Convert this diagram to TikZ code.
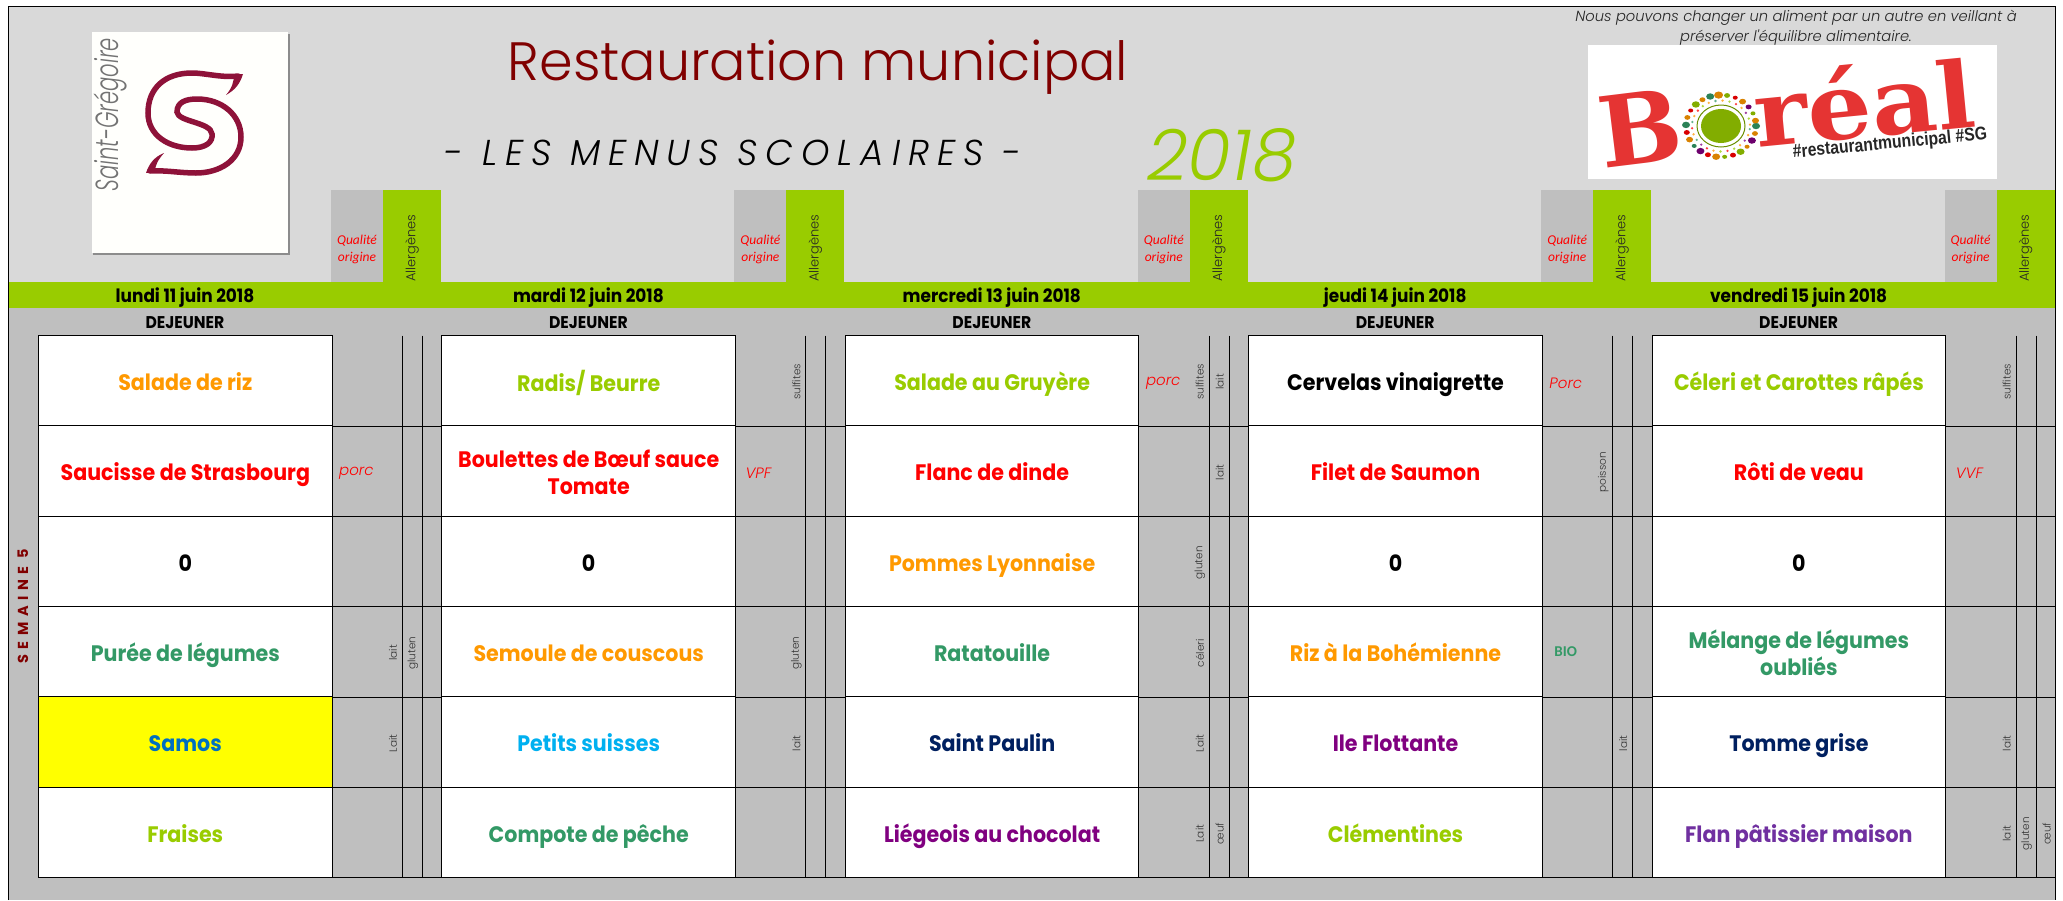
\documentclass[tikz,border=0pt]{standalone}
\usepackage{fontspec}
\setmainfont{Poppins}
\newfontfamily\lightf{Poppins Light}[ItalicFont={Poppins Light Italic}]
\newfontfamily\lightnar{Poppins Light}[ItalicFont={Poppins Light Italic},FakeStretch=0.66]
\newfontfamily\cellf{Poppins}[FakeStretch=0.92]
\newfontfamily\carl{Carlito}
\newfontfamily\slab{DejaVu Serif}[FakeStretch=1.1]
\newfontfamily\slabb{DejaVu Serif}
\newfontfamily\hashf{Liberation Sans}[FakeStretch=0.85]
\definecolor{headbg}{HTML}{D9D9D9}
\definecolor{bodybg}{HTML}{BFBFBF}
\definecolor{lime}{HTML}{99CC00}
\definecolor{orng}{HTML}{FF9900}
\definecolor{grn}{HTML}{339966}
\definecolor{sky}{HTML}{00B0F0}
\definecolor{blu}{HTML}{0070C0}
\definecolor{navy}{HTML}{002060}
\definecolor{purp}{HTML}{800080}
\definecolor{viol}{HTML}{7030A0}
\definecolor{maroon}{HTML}{800000}
\definecolor{logoS}{HTML}{8E1239}
\definecolor{borealred}{HTML}{E53433}
\definecolor{hiyellow}{HTML}{FFFF00}
\tikzset{
  menucell/.style={draw=black,fill=white,line width=1pt,minimum width=293.5pt,minimum height=90.3pt,inner sep=0pt},
  celltext/.style={inner sep=0pt,align=center,font=\cellf\bfseries\fontsize{22.4}{27}\selectfont},
  allerg/.style={rotate=90,inner sep=0pt,text=black!80,font=\lightf\fontsize{10.5}{12}\selectfont},
  origin/.style={anchor=west,inner sep=0pt,text=red,yshift=-2.5pt,font=\lightf\itshape\fontsize{15}{18}\selectfont},
  qual/.style={inner sep=0pt,text=red,align=center,font=\carl\itshape\fontsize{13.5}{17.5}\selectfont},
  allhead/.style={rotate=90,anchor=west,inner sep=0pt,text=black!85,font=\lightf\fontsize{13}{15}\selectfont},
  dateh/.style={inner sep=0pt,font=\cellf\bfseries\fontsize{18.4}{20}\selectfont},
  dejh/.style={inner sep=0pt,font=\cellf\bfseries\fontsize{17}{20}\selectfont},
  rule/.style={line width=1pt,black},
}
\newcommand\mcell[5][]{%
  \pgfmathsetmacro\cx{185.3+403.4*(#2-1)}%
  \pgfmathsetmacro\cy{380.6+90.33*(#3-1)}%
  \node[menucell,#1] (m#2#3) at (\cx,\cy) {};
  \node[celltext,text=#4] (t#2#3) at ([yshift=-4.5pt]m#2#3.center) {\strut #5\strut};}
\newcommand\algn[4]{% col,row,sub,text
  \pgfmathsetmacro\ax{38.5+403.4*(#1-1)+354.5+20*(#3-1)}%
  \pgfmathsetmacro\ay{382+90.33*(#2-1)}%
  \node[allerg] (a#1#2#3) at (\ax,\ay) {#4};}
\newcommand\orig[5][origin]{%
  \pgfmathsetmacro\ax{332+403.4*(#2-1)+#4}%
  \pgfmathsetmacro\ay{380.6+90.33*(#3-1)}%
  \node[#1] (o#2#3) at (\ax,\ay) {#5};}
\begin{document}
\begin{tikzpicture}[x=1pt,y=-1pt]
\useasboundingbox (0,0) rectangle (2063,900);
\fill[white] (0,0) rectangle (2063,900);
% backgrounds
\fill[headbg] (8,6) rectangle (2055,282);
\fill[bodybg] (8,308) rectangle (2055,900);
\fill[lime] (8,282) rectangle (2056,308);
\foreach \i in {0,1,2,3,4}{
  \pgfmathsetmacro\qa{331+403.4*\i}
  \pgfmathsetmacro\qb{\qa+52}
  \pgfmathsetmacro\qc{\qa+110}
  \fill[bodybg] (\qa,190) rectangle (\qb,282);
  \fill[lime] (\qb,190) rectangle (\qc,282);
  \pgfmathsetmacro\qq{\qa+26}
  \node[qual] (q\i) at (\qq,249.5) {Qualité\\origine};
  \pgfmathsetmacro\qr{\qa+81}
  \node[allhead] (h\i) at (\qr,282) {Allergènes};
}
\draw[line width=1pt,black] (8,900) -- (8,6) -- (2055,6) -- (2055,900);
% logo left
\fill[black!45] (93,34) rectangle (289.5,255);
\fill[white!99!yellow] (92,32) rectangle (288,253);
\node[rotate=90,anchor=west,inner sep=0pt,text=black!55,font=\lightnar\itshape\fontsize{32}{34}\selectfont] (sg) at (110,192) {Saint-Grégoire};
\draw[logoS,line width=5.5pt,line cap=round]
  (238,76) .. controls (222,78) and (205,73) .. (192,73)
  .. controls (165,73) and (148,88) .. (148,113)
  .. controls (148,135) and (168,148) .. (192,148)
  .. controls (206,148) and (213,142) .. (212,134)
  .. controls (211,122) and (178,122) .. (177,112)
  .. controls (177,102) and (186,99) .. (197,99)
  .. controls (222,99) and (241,115) .. (241,137)
  .. controls (241,160) and (220,173) .. (196,173)
  .. controls (180,173) and (165,170) .. (150,171);
\fill[logoS] (243,74) .. controls (240,84) and (235,90) .. (226,95) .. controls (232,88) and (234,82) .. (234,74) -- cycle;
\fill[logoS] (146,173) .. controls (149,164) and (154,157) .. (164,153) .. controls (158,160) and (155,165) .. (155,172) -- cycle;
% titles
\node[inner sep=0pt,text=maroon,font=\lightf\fontsize{54}{60}\selectfont] (title) at (818,67) {Restauration municipal};
\node[inner sep=0pt,text=black,font=\lightf\itshape\fontsize{36}{38}\selectfont\addfontfeatures{LetterSpace=22}] (sub) at (733,153) {- LES MENUS SCOLAIRES -};
\node[inner sep=0pt,text=lime,font=\lightf\itshape\fontsize{71}{72}\selectfont] (year) at (1222,155) {2018};
\node[inner sep=0pt,align=center,text=black!85,font=\lightf\itshape\fontsize{14.7}{20}\selectfont] (note) at (1796,28) {Nous pouvons changer un aliment par un autre en veillant à\\préserver l'équilibre alimentaire.};
% Boreal logo
\fill[white] (1588,45) rectangle (1997,179);
\node[inner sep=0pt,text=borealred,rotate=7,font=\slabb\bfseries\fontsize{98}{98}\selectfont] (bB) at (1640,128) {B};
\fill[white] (1721,126) ellipse [x radius=43pt,y radius=39pt];
\fill[lime!85!black] (1721,126) ellipse [x radius=20pt,y radius=17pt];
\draw[lime!70!black,line width=1pt] (1721,126) ellipse [x radius=24pt,y radius=21pt];
\foreach \a/\c/\rr in {0/grn/4,14/orng/3,28/purp/4,42/orng/2.5,56/lime/4,70/red/3,84/lime/2.5,98/orng/4,112/red/3,126/purp/4,140/grn/2.5,154/orng/3.5,168/red/3,182/grn/4,196/orng/3,210/red/2.5,224/lime/4,238/orng/3,252/grn/4,266/orng/4.5,280/lime/3,294/red/2.5,308/orng/3.5,322/purp/3,336/lime/2.5,350/orng/3.5}{
  \fill[\c!85!black] ({1721+35*cos(\a)},{126+31*sin(\a)}) ellipse [x radius=\rr pt,y radius=\rr*0.8 pt];
  \fill[\c!75!white] ({1721+29*cos(\a+7)},{126+25.5*sin(\a+7)}) circle [radius=1.3pt];
}
\node[inner sep=0pt,text=borealred,rotate=5.6,anchor=base west,font=\slab\bfseries\fontsize{92}{92}\selectfont] (breal) at (1757,148) {réal};
\node[inner sep=0pt,text=black!85,rotate=5.4,font=\hashf\bfseries\fontsize{18.5}{20}\selectfont] (hash) at (1890,144) {\#restaurantmunicipal \#SG};
% date band
\foreach \i/\t in {0/lundi 11 juin 2018,1/mardi 12 juin 2018,2/mercredi 13 juin 2018,3/jeudi 14 juin 2018,4/vendredi 15 juin 2018}{
  \pgfmathsetmacro\dx{185+403.4*\i}
  \node[dateh] (d\i) at (\dx,297.5) {\t};
  \node[dejh] (dj\i) at (\dx,323) {DEJEUNER};
}
\node[rotate=90,inner sep=0pt,text=maroon,font=\bfseries\fontsize{14.5}{16}\selectfont\addfontfeatures{LetterSpace=38}] (sem) at (23,606) {SEMAINE 5};
% grid lines in the grey columns
\foreach \i in {0,1,2,3,4}{
  \pgfmathsetmacro\la{402.5+403.4*\i}
  \pgfmathsetmacro\lb{422.5+403.4*\i}
  \draw[rule] (\la,335.5) -- (\la,877.5);
  \draw[rule] (\lb,335.5) -- (\lb,877.5);
}
\foreach \r in {426,516,606.5,697,787.5,877.5}{
  \draw[rule] (38.5,\r) -- (2055,\r);
}
% menu cells
\mcell{1}{1}{orng}{Salade de riz}
\mcell{1}{2}{red}{Saucisse de Strasbourg}
\mcell{1}{3}{black}{0}
\mcell{1}{4}{grn}{Purée de légumes}
\mcell[fill=hiyellow]{1}{5}{blu}{Samos}
\mcell{1}{6}{lime}{Fraises}
\mcell{2}{1}{lime}{Radis/ Beurre}
\mcell{2}{2}{red}{Boulettes de Bœuf sauce\\Tomate}
\mcell{2}{3}{black}{0}
\mcell{2}{4}{orng}{Semoule de couscous}
\mcell{2}{5}{sky}{Petits suisses}
\mcell{2}{6}{grn}{Compote de pêche}
\mcell{3}{1}{lime}{Salade au Gruyère}
\mcell{3}{2}{red}{Flanc de dinde}
\mcell{3}{3}{orng}{Pommes Lyonnaise}
\mcell{3}{4}{grn}{Ratatouille}
\mcell{3}{5}{navy}{Saint Paulin}
\mcell{3}{6}{purp}{Liégeois au chocolat}
\mcell{4}{1}{black}{Cervelas vinaigrette}
\mcell{4}{2}{red}{Filet de Saumon}
\mcell{4}{3}{black}{0}
\mcell{4}{4}{orng}{Riz à la Bohémienne}
\mcell{4}{5}{purp}{Ile Flottante}
\mcell{4}{6}{lime}{Clémentines}
\mcell{5}{1}{lime}{Céleri et Carottes râpés}
\mcell{5}{2}{red}{Rôti de veau}
\mcell{5}{3}{black}{0}
\mcell{5}{4}{grn}{Mélange de légumes\\oubliés}
\mcell{5}{5}{navy}{Tomme grise}
\mcell{5}{6}{viol}{Flan pâtissier maison}
% origin labels
\orig{1}{2}{7}{porc}
\orig{2}{2}{10}{VPF}
\orig{3}{1}{7}{porc}
\orig{4}{1}{7}{Porc}
\orig{5}{2}{10}{VVF}
\orig[origin,yshift=2.5pt,text=grn,font=\carl\bfseries\fontsize{15}{17}\selectfont]{4}{4}{12}{BIO}
% allergens
\algn{1}{4}{1}{lait}\algn{1}{4}{2}{gluten}\algn{1}{5}{1}{Lait}
\algn{2}{1}{1}{sulfites}\algn{2}{4}{1}{gluten}\algn{2}{5}{1}{lait}
\algn{3}{1}{1}{sulfites}\algn{3}{1}{2}{lait}\algn{3}{2}{2}{lait}\algn{3}{3}{1}{gluten}\algn{3}{4}{1}{céleri}\algn{3}{5}{1}{Lait}\algn{3}{6}{1}{Lait}\algn{3}{6}{2}{œuf}
\algn{4}{2}{1}{poisson}\algn{4}{5}{2}{lait}
\algn{5}{1}{1}{sulfites}\algn{5}{5}{1}{lait}\algn{5}{6}{1}{lait}\algn{5}{6}{2}{gluten}\algn{5}{6}{3}{œuf}
\end{tikzpicture}
\end{document}
